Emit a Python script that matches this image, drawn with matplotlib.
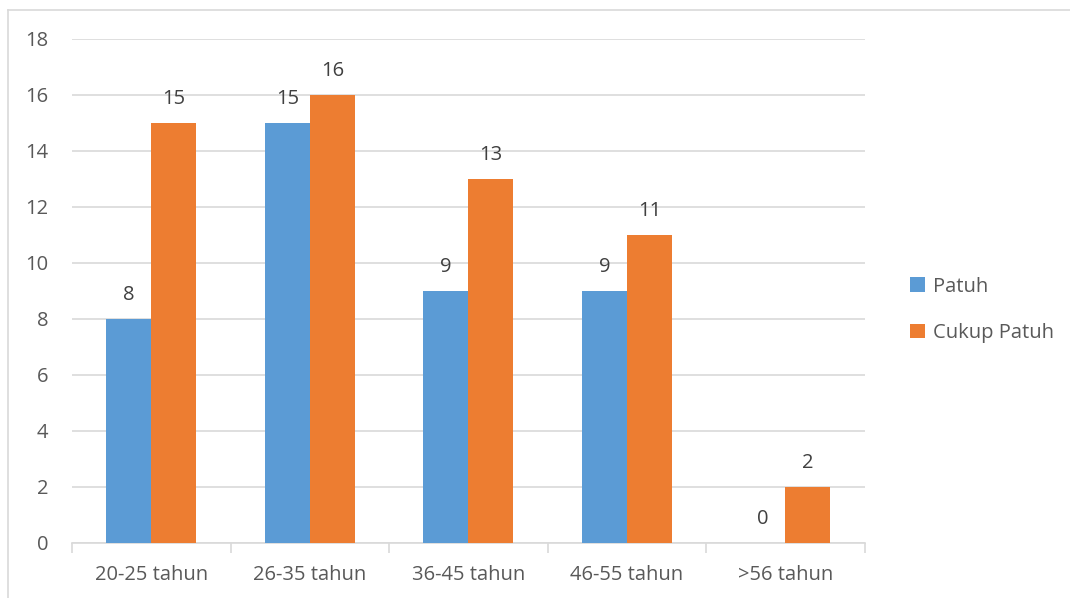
import numpy as np
import matplotlib.pyplot as plt
from matplotlib.lines import Line2D

categories = ['20-25 tahun', '26-35 tahun', '36-45 tahun', '46-55 tahun', '>56 tahun']
patuh = [8, 15, 9, 9, 0]
cukup_patuh = [15, 16, 13, 11, 2]

blue = '#5B9BD5'
orange = '#ED7D31'
grid_col = '#D9D9D9'
text_col = '#595959'

plt.rcParams['font.family'] = ['Open Sans', 'DejaVu Sans']
fs = 14.5

fig = plt.figure(figsize=(10.7, 5.98), dpi=100)
ax = fig.add_axes([0.0673, 0.092, 0.7407, 0.8428])

x = np.arange(len(categories))
w = 0.284
b1 = ax.bar(x - w / 2, patuh, w, color=blue, label='Patuh', zorder=3)
b2 = ax.bar(x + w / 2, cukup_patuh, w, color=orange, label='Cukup Patuh', zorder=3)

# value labels above bars
for bars in (b1, b2):
    for r in bars:
        ax.annotate(f'{int(r.get_height())}', (r.get_x() + r.get_width() / 2, r.get_height()),
                    xytext=(0, 10), textcoords='offset points', ha='center', va='bottom',
                    fontsize=fs, color='#404040')

ax.set_xlim(-0.5, len(categories) - 0.5)
ax.set_ylim(0, 18)
ax.set_yticks(range(0, 19, 2))
ax.yaxis.grid(True, color=grid_col, linewidth=1.2, zorder=0)
ax.tick_params(axis='y', length=0, labelsize=fs, labelcolor=text_col, pad=17)
ax.set_xticks(x)
ax.set_xticklabels(categories)
ax.set_xticks(np.arange(-0.5, len(categories), 1), minor=True)
ax.tick_params(axis='x', which='major', length=0, labelsize=fs, labelcolor=text_col, pad=16)
ax.tick_params(axis='x', which='minor', length=7, color=grid_col, width=1.2)
for s in ['top', 'right', 'left']:
    ax.spines[s].set_visible(False)
ax.spines['bottom'].set_color(grid_col)
ax.spines['bottom'].set_linewidth(1.2)

leg = ax.legend(loc='center left', bbox_to_anchor=(1.035, 0.463), frameon=False,
                fontsize=fs, labelcolor=text_col, handlelength=0.7, handleheight=0.7,
                handletextpad=0.4, labelspacing=1.3)

# chart border
fig.add_artist(Line2D([8 / 1070, 8 / 1070], [0, 1 - 10 / 598], color=grid_col, lw=1.2))
fig.add_artist(Line2D([8 / 1070, 1], [1 - 10 / 598, 1 - 10 / 598], color=grid_col, lw=1.2))

fig.savefig('out.png', dpi=100)
